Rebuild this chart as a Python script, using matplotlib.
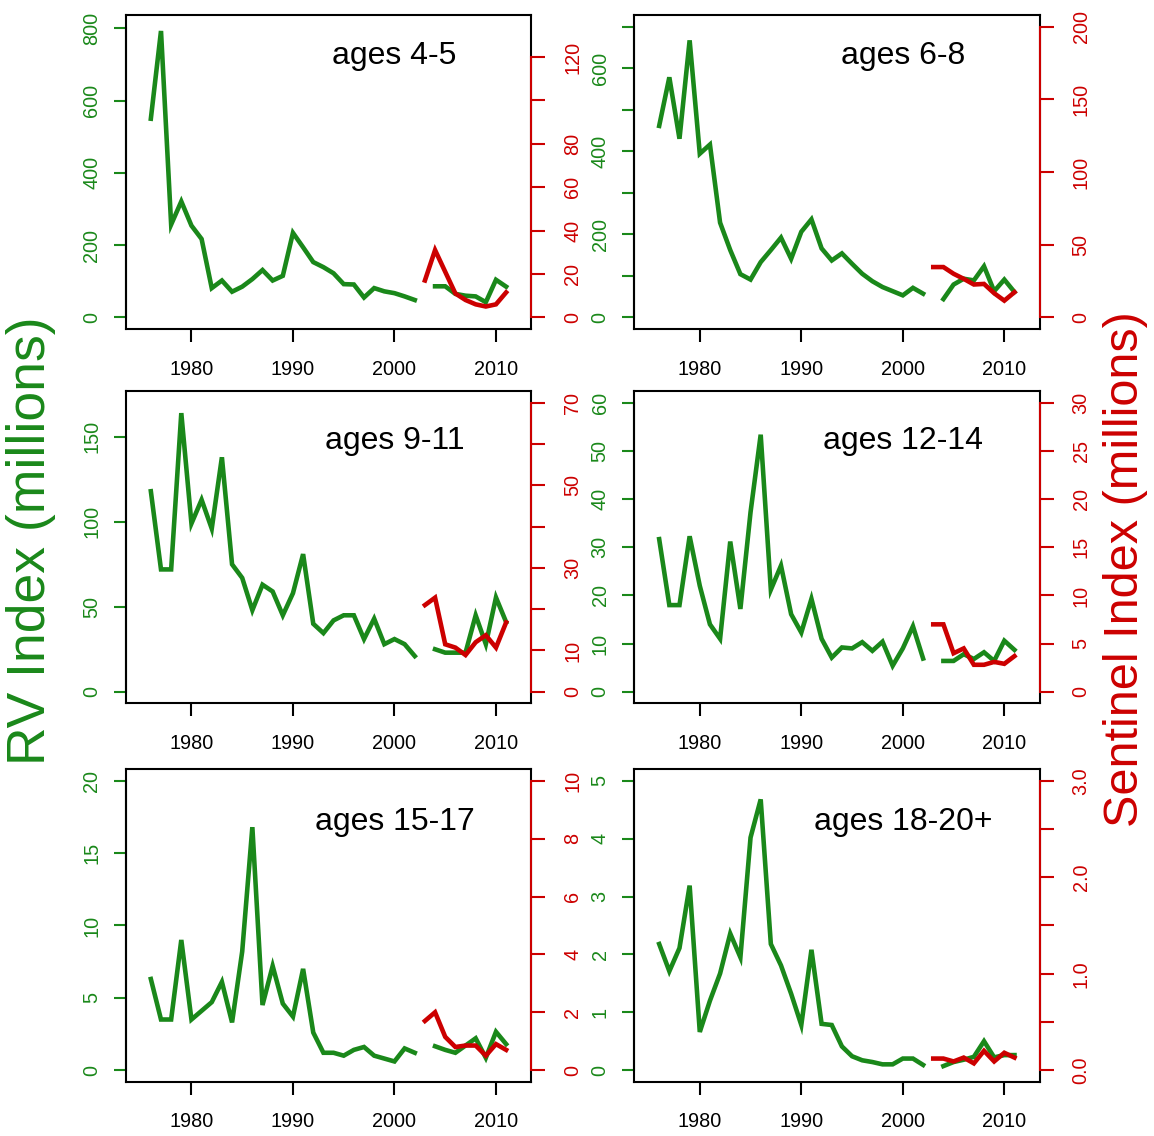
import matplotlib.pyplot as plt
import numpy as np

plt.rcParams["font.family"] = ["Liberation Sans", "DejaVu Sans"]

GREEN = "#1a881a"
RED = "#cc0000"
nan = np.nan

# survey years; RV has no 2003 value, the sentinel index starts in 2003
years = np.arange(1976, 2012)
sen_years = np.arange(2003, 2012)

ages = ["ages 4-5", "ages 6-8", "ages 9-11", "ages 12-14", "ages 15-17", "ages 18-20+"]

rv_4_5 = [550, 793, 257, 321, 254, 217, 81, 102, 71, 85, 106, 131, 102, 115, 234, 194,
          153, 139, 122, 92, 91, 55, 81, 72, 67, 58, 48, nan, 86, 86, 65, 60, 58, 42, 104, 85]
rv_6_8 = [461, 578, 430, 667, 394, 416, 228, 162, 104, 91, 133, 162, 192, 141, 206, 236,
          166, 137, 154, 129, 105, 87, 73, 63, 53, 71, 57, nan, 44, 79, 93, 89, 123, 63, 91, 61]
rv_9_11 = [118, 72, 72, 164, 99, 113, 96, 138, 75, 67, 48, 63, 59, 45, 58, 81, 40, 34.5,
           42, 45, 45, 31, 43, 28, 31, 28, 21, nan, 25, 23, 23, 23, 45, 28, 55.5, 41]
rv_12_14 = [31.7, 18, 18, 32.3, 22, 14, 11, 31.2, 17.2, 37.3, 53.4, 21.2, 26.2, 16.1, 12.3,
            19.3, 11, 7.1, 9.2, 9, 10.3, 8.5, 10.4, 5.4, 9, 13.6, 6.9, nan,
            6.4, 6.4, 7.8, 6.8, 8.2, 6.4, 10.6, 8.7]
rv_15_17 = [6.3, 3.5, 3.5, 9.0, 3.5, 4.1, 4.7, 6.1, 3.3, 8.2, 16.8, 4.5, 7.2, 4.6, 3.7, 7.0,
            2.6, 1.2, 1.2, 1.0, 1.4, 1.6, 1.0, 0.8, 0.6, 1.5, 1.2, nan,
            1.65, 1.4, 1.2, 1.7, 2.2, 0.85, 2.65, 1.8]
rv_18_20 = [2.18, 1.71, 2.11, 3.19, 0.66, 1.2, 1.67, 2.36, 1.95, 4.02, 4.68, 2.18, 1.81, 1.32,
            0.78, 2.08, 0.8, 0.78, 0.41, 0.24, 0.17, 0.14, 0.10, 0.10, 0.2, 0.2, 0.09, nan,
            0.07, 0.14, 0.18, 0.23, 0.5, 0.22, 0.26, 0.26]

sen_4_5 = [17, 31, 21, 11, 8, 6, 5, 6, 11.5]
sen_6_8 = [34.6, 34.6, 30, 26.5, 22.6, 23, 16.6, 11.5, 17.3]
sen_9_11 = [21, 22.8, 11.5, 10.7, 8.9, 12, 13.7, 10.7, 16.8]
sen_12_14 = [7.0, 7.0, 4.0, 4.5, 2.8, 2.8, 3.1, 2.9, 3.7]
sen_15_17 = [1.7, 2.0, 1.15, 0.8, 0.85, 0.85, 0.5, 0.9, 0.7]
sen_18_20 = [0.12, 0.12, 0.09, 0.13, 0.07, 0.2, 0.09, 0.18, 0.13]

rv_series = [rv_4_5, rv_6_8, rv_9_11, rv_12_14, rv_15_17, rv_18_20]
sen_series = [sen_4_5, sen_6_8, sen_9_11, sen_12_14, sen_15_17, sen_18_20]

# axis tops (before the usual 4% padding), ticks and tick labels
rv_top = [805, 700, 170, 60, 20, 5]
sen_top = [134, 200, 70, 30, 10, 3]

rv_ticks = [[0, 200, 400, 600, 800], [0, 100, 200, 300, 400, 500, 600, 700],
            [0, 50, 100, 150], [0, 10, 20, 30, 40, 50, 60], [0, 5, 10, 15, 20],
            [0, 1, 2, 3, 4, 5]]
rv_labels = [["0", "200", "400", "600", "800"], ["0", "", "200", "", "400", "", "600", ""],
             ["0", "50", "100", "150"], ["0", "10", "20", "30", "40", "50", "60"],
             ["0", "5", "10", "15", "20"], ["0", "1", "2", "3", "4", "5"]]
sen_ticks = [[0, 20, 40, 60, 80, 100, 120], [0, 50, 100, 150, 200],
             [0, 10, 20, 30, 40, 50, 60, 70], [0, 5, 10, 15, 20, 25, 30],
             [0, 2, 4, 6, 8, 10], [0, 0.5, 1.0, 1.5, 2.0, 2.5, 3.0]]
sen_labels = [["0", "20", "40", "60", "80", "", "120"], ["0", "50", "100", "150", "200"],
              ["0", "10", "", "30", "", "50", "", "70"], ["0", "5", "10", "15", "20", "25", "30"],
              ["0", "2", "4", "6", "8", "10"], ["0.0", "", "1.0", "", "2.0", "", "3.0"]]

label_y = [0.87, 0.87, 0.842, 0.842, 0.83, 0.83]

fig = plt.figure(figsize=(11.54, 11.36), dpi=100)

col_x = [0.1089, 0.5494]
col_w = 0.3515
row_y = [0.7104, 0.3809, 0.0478]
row_h = [0.2764, 0.2746, 0.2750]


def padded(top):
    return (-0.04 * top, 1.04 * top)


for i in range(6):
    r, c = divmod(i, 2)
    ax = fig.add_axes([col_x[c], row_y[r], col_w, row_h[r]])
    tw = ax.twinx()

    ax.plot(years, rv_series[i], color=GREEN, lw=3.3, solid_joinstyle="miter")
    tw.plot(sen_years, sen_series[i], color=RED, lw=3.3, solid_joinstyle="miter")

    ax.set_xlim(1973.52, 2013.48)
    ax.set_ylim(*padded(rv_top[i]))
    tw.set_ylim(*padded(sen_top[i]))

    for s in ax.spines.values():
        s.set_linewidth(1.5)
        s.set_color("black")
    for s in tw.spines.values():
        s.set_visible(False)

    ax.set_xticks([1980, 1990, 2000, 2010])
    ax.tick_params(axis="x", direction="out", length=9.5, width=1.5, pad=12.5,
                   labelsize=14.3, colors="black")

    ax.set_yticks(rv_ticks[i])
    ax.set_yticklabels(rv_labels[i], rotation=90, va="center")
    ax.tick_params(axis="y", direction="out", length=9, width=1.5, pad=8.5,
                   labelsize=14.3, colors=GREEN)
    ax.plot([0, 0], [rv_ticks[i][0], rv_ticks[i][-1]], transform=ax.get_yaxis_transform(),
            color=GREEN, lw=1.5, clip_on=False)

    tw.set_yticks(sen_ticks[i])
    tw.set_yticklabels(sen_labels[i], rotation=90, va="center")
    tw.tick_params(axis="y", direction="out", length=10, width=1.5, pad=13,
                   labelsize=14.3, colors=RED)
    tw.plot([1, 1], [sen_ticks[i][0], sen_ticks[i][-1]], transform=tw.get_yaxis_transform(),
            color=RED, lw=1.5, clip_on=False)

    ax.text(2000, label_y[i], ages[i], transform=ax.get_xaxis_transform(),
            ha="center", va="center", fontsize=23, color="black")

fig.text(31 / 1154, 1 - 541 / 1136, "RV Index (millions)", rotation=90,
         ha="center", va="center", fontsize=38.5, color=GREEN)
fig.text(1125 / 1154, 1 - 569 / 1136, "Sentinel Index (millions)", rotation=90,
         ha="center", va="center", fontsize=35, color=RED)

fig.savefig("out.png", dpi=100)
